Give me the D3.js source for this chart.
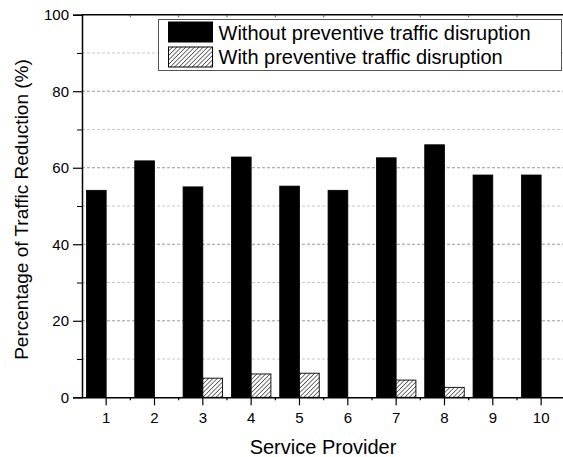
<!DOCTYPE html>
<html>
<head>
<meta charset="utf-8">
<script src="https://cdn.jsdelivr.net/npm/d3@7/dist/d3.min.js"></script>
<style>
  html, body { margin: 0; padding: 0; background: #fff; }
  svg { display: block; font-family: "Liberation Sans", Arial, sans-serif; }
</style>
</head>
<body>
<svg id="chart" width="563" height="457"></svg>
<script>
// Service providers on the x axis
const providers = ["1", "2", "3", "4", "5", "6", "7", "8", "9", "10"];
// Traffic reduction (%) per provider
const withoutPreventive = [54.1, 61.8, 55.0, 62.8, 55.2, 54.1, 62.6, 66.0, 58.1, 58.1];
const withPreventive    = [0, 0, 5.0, 6.1, 6.3, 0, 4.5, 2.6, 0, 0];
const seriesNames = ["Without preventive traffic disruption", "With preventive traffic disruption"];
const yMajorTicks = [0, 20, 40, 60, 80, 100];
const yMinorTicks = [10, 30, 50, 70, 90];

const svg = d3.select("#chart");
const plotLeft = 82, plotRight = 565.3, plotTop = 14.7, plotBottom = 397.3;

const x = d3.scaleBand().domain(providers).range([plotLeft, plotRight]).padding(0);
const groupW = 39.5;
const x1 = d3.scaleBand().domain([0, 1]).range([0, groupW]);
const y = d3.scaleLinear().domain([0, 100]).range([plotBottom, plotTop]);

// hatch pattern for the second series
const defs = svg.append("defs");
const pat = defs.append("pattern")
  .attr("id", "hatch").attr("patternUnits", "userSpaceOnUse")
  .attr("width", 3.1).attr("height", 3.1)
  .attr("patternTransform", "rotate(45)");
pat.append("rect").attr("width", 3.1).attr("height", 3.1).attr("fill", "#fff");
pat.append("line").attr("x1", 0).attr("y1", 0).attr("x2", 0).attr("y2", 3.1)
  .attr("stroke", "#000").attr("stroke-width", 1.1);

// grid lines
svg.append("g").selectAll("line").data(yMinorTicks).join("line")
  .attr("x1", plotLeft).attr("x2", plotRight)
  .attr("y1", d => y(d)).attr("y2", d => y(d))
  .attr("stroke", "#c8c8c8").attr("stroke-width", 1).attr("stroke-dasharray", "3,2");
svg.append("g").selectAll("line").data(yMajorTicks.filter(d => d > 0 && d < 100)).join("line")
  .attr("x1", plotLeft).attr("x2", plotRight)
  .attr("y1", d => y(d)).attr("y2", d => y(d))
  .attr("stroke", "#9a9a9a").attr("stroke-width", 1).attr("stroke-dasharray", "3,2");

// bars
const groups = svg.append("g").selectAll("g").data(providers).join("g")
  .attr("transform", d => `translate(${x(d) + (x.bandwidth() - groupW) / 2},0)`);
groups.append("rect")
  .attr("x", x1(0)).attr("width", x1.bandwidth())
  .attr("y", (d, i) => y(withoutPreventive[i]))
  .attr("height", (d, i) => y(0) - y(withoutPreventive[i]))
  .attr("fill", "#000").attr("stroke", "#000").attr("stroke-width", 0.8);
groups.filter((d, i) => withPreventive[i] > 0).append("rect")
  .attr("x", x1(1)).attr("width", x1.bandwidth())
  .attr("y", d => y(withPreventive[providers.indexOf(d)]))
  .attr("height", d => y(0) - y(withPreventive[providers.indexOf(d)]))
  .attr("fill", "url(#hatch)").attr("stroke", "#000").attr("stroke-width", 0.9);

// left axis: major and minor ticks
const yAxis = svg.append("g").attr("transform", `translate(${plotLeft},0)`)
  .call(d3.axisLeft(y).tickValues(yMajorTicks).tickSize(9).tickPadding(4).tickFormat(d3.format("d")));
svg.append("g").attr("transform", `translate(${plotLeft},0)`)
  .call(d3.axisLeft(y).tickValues(yMinorTicks).tickSize(5).tickFormat(""))
  .call(g => g.select(".domain").remove());

// bottom axis: labelled ticks at providers, short ticks between them
const xAxis = svg.append("g").attr("transform", `translate(0,${plotBottom})`)
  .call(d3.axisBottom(x).tickSize(8).tickPadding(7.5).tickSizeOuter(0));
const mids = providers.slice(1).map(p => x(p));
svg.append("g").selectAll("line").data(mids).join("line")
  .attr("x1", d => d).attr("x2", d => d).attr("y1", plotBottom).attr("y2", plotBottom + 3)
  .attr("stroke", "#000").attr("stroke-width", 1.2);
// top border with small inward ticks
svg.append("line").attr("x1", plotLeft).attr("x2", plotRight).attr("y1", plotTop).attr("y2", plotTop)
  .attr("stroke", "#000").attr("stroke-width", 1.5);
svg.append("g").selectAll("line").data(mids).join("line")
  .attr("x1", d => d).attr("x2", d => d).attr("y1", plotTop).attr("y2", plotTop + 2.5)
  .attr("stroke", "#555").attr("stroke-width", 1);
svg.append("line").attr("x1", plotRight).attr("x2", plotRight).attr("y1", plotTop).attr("y2", plotBottom)
  .attr("stroke", "#000").attr("stroke-width", 1.5);

[yAxis, xAxis].forEach(g => {
  g.select(".domain").attr("stroke-width", 1.5);
  g.selectAll(".tick line").attr("stroke-width", 1.2);
  g.selectAll(".tick text").attr("font-size", 15).attr("fill", "#000")
    .style("font-family", "'Liberation Sans', Arial, sans-serif");
});

// axis titles
svg.append("text").attr("x", 323).attr("y", 454).attr("text-anchor", "middle")
  .attr("font-size", 20).text("Service Provider");
svg.append("text").attr("transform", "translate(28,209.5) rotate(-90)")
  .attr("text-anchor", "middle").attr("font-size", 19).text("Percentage of Traffic Reduction (%)");

// legend
const lg = svg.append("g");
lg.append("rect").attr("x", 158.5).attr("y", 19.5).attr("width", 403).attr("height", 51)
  .attr("fill", "#fff").attr("stroke", "#555").attr("stroke-width", 1);
const fills = ["#000", "url(#hatch)"];
seriesNames.forEach((name, i) => {
  const yy = 22 + i * 25;
  lg.append("rect").attr("x", 168.5).attr("y", yy).attr("width", 44).attr("height", 20)
    .attr("fill", fills[i]).attr("stroke", "#000").attr("stroke-width", 1);
  lg.append("text").attr("x", 218.5).attr("y", 39.5 + i * 24).attr("font-size", 20).text(name);
});
</script>
</body>
</html>
